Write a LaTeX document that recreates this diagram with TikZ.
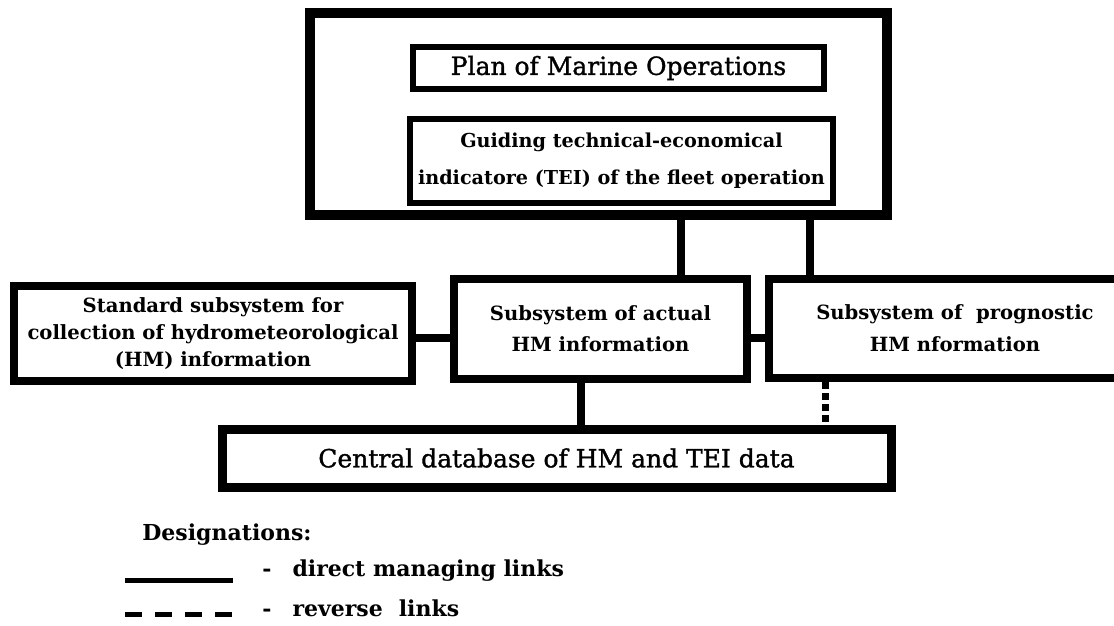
\documentclass[tikz,border=0pt]{standalone}
\usepackage{fontspec}
\setmainfont{DejaVu Serif}
\newfontfamily\heavyserif[FakeBold=1.3]{DejaVu Serif}
\usetikzlibrary{positioning,calc}

\begin{document}
\begin{tikzpicture}[
  x=0.5pt, y=-0.5pt,
  box/.style={draw, rectangle, align=center, inner sep=0pt, line width=4pt, font=\bfseries\fontsize{9.8}{15.5}\selectfont},
  bigtxt/.style={font=\heavyserif\fontsize{12.5}{15}\selectfont},
  link/.style={line width=4pt},
  back/.style={line width=3.5pt, dash pattern=on 3.5pt off 2pt},
  legend/.style={font=\bfseries\fontsize{11}{13}\selectfont, inner sep=0pt}
]
\useasboundingbox (0,0) rectangle (1114,626);
\clip (0,0) rectangle (1114,626);

\node[box, line width=5pt, minimum width=288.5pt, minimum height=100.75pt] (plans) at (598.5,114.25) {};
\node[box, bigtxt, line width=3pt, minimum width=205.5pt, minimum height=21pt] (marine) at (618.5,68) {Plan of Marine Operations};
\node[box, line width=3pt, minimum width=211.5pt, minimum height=42pt, font=\bfseries\fontsize{9.6}{18.5}\selectfont, below=10.5pt of marine, xshift=1.5pt, yshift=-1.5pt] (tei) {Guiding technical-economical\\indicatore (TEI) of the fleet operation};

\node[box, minimum width=146.5pt, minimum height=50pt] (actual) at (600.5,329) {Subsystem of actual\\HM information};
\node[box, minimum width=199pt, minimum height=47.5pt, font=\bfseries\fontsize{9.8}{13.5}\selectfont] (standard) at (213,333.5) {Standard subsystem for\\collection of hydrometeorological\\(HM) information};
\node[box, minimum width=186pt, minimum height=49.5pt, font=\bfseries\fontsize{9.8}{16}\selectfont] (progn) at (955,328.5) {Subsystem of~ prognostic\\HM nformation};
\node[box, bigtxt, line width=4.5pt, minimum width=334.5pt, minimum height=29pt] (base) at (556.5,458) {Central database of HM and TEI data};

\coordinate (k1) at (681,0);
\coordinate (k2) at (810,0);
\coordinate (k3) at (0,338);
\coordinate (k4) at (581,0);
\coordinate (k5) at (825,0);

\draw[link] (plans.south -| k1) -- (actual.north -| k1);
\draw[link] (plans.south -| k2) -- (progn.north -| k2);
\draw[link] (standard.east |- k3) -- (actual.west |- k3);
\draw[link] (actual.east |- k3) -- (progn.west |- k3);
\draw[link] (actual.south -| k4) -- (base.north -| k4);
\draw[back] (progn.south -| k5) -- (base.north -| k5);

\node[legend, anchor=base west] (desig) at (142,540) {Designations:};
\coordinate (solidA) at (125,580);
\coordinate (solidB) at (233,580);
\coordinate (dashA) at (125,614);
\coordinate (dashB) at (233,614);
\draw[line width=2.5pt] (solidA) -- (solidB);
\draw[line width=2.5pt, dash pattern=on 8.5pt off 6.5pt] (dashA) -- (dashB);
\node[legend, anchor=base west] (direct) at (262,576) {-\hspace{10.5pt}direct managing links};
\node[legend, anchor=base west] (reverse) at (262,616) {-\hspace{10.5pt}reverse\hspace{8pt}links};

\end{tikzpicture}
\end{document}
